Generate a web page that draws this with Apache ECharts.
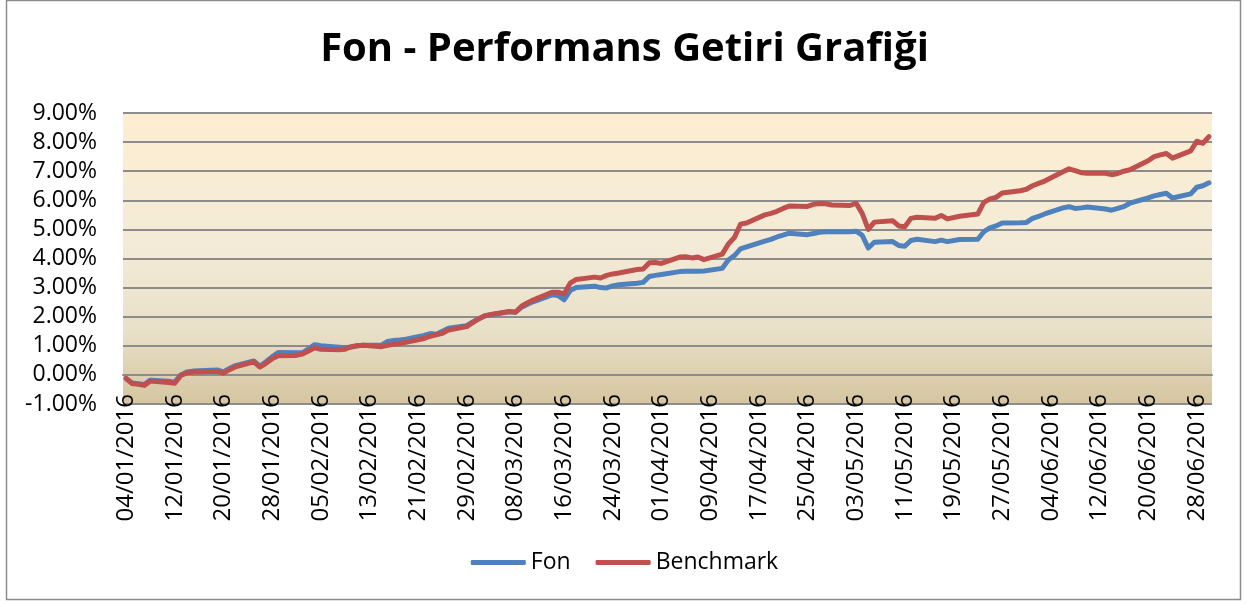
<!DOCTYPE html>
<html>
<head>
<meta charset="utf-8">
<script src="https://cdn.jsdelivr.net/npm/echarts@6/dist/echarts.min.js"></script>
<style>
html,body{margin:0;padding:0;background:#fff;}
#chart{width:1249px;height:604px;}
</style>
</head>
<body>
<div id="chart"></div>
<script>
const titleText = 'Fon - Performans Getiri Grafiği';
const seriesNames = ['Fon', 'Benchmark'];
const axisStart = '2016-01-04';
const axisEnd = '2016-06-30';

const pointDates = [
  '04/01','05/01','06/01','07/01','08/01','11/01','12/01','13/01','14/01','15/01','18/01','19/01','20/01','21/01','22/01','25/01','26/01','27/01','28/01','29/01',
  '01/02','02/02','03/02','04/02','05/02','08/02','09/02','10/02','11/02','12/02','15/02','16/02','17/02','18/02','19/02','22/02','23/02','24/02','25/02','26/02','29/02',
  '01/03','02/03','03/03','04/03','07/03','08/03','09/03','10/03','11/03','14/03','15/03','16/03','17/03','18/03','21/03','22/03','23/03','24/03','25/03','28/03','29/03','30/03','31/03',
  '01/04','04/04','05/04','06/04','07/04','08/04','11/04','12/04','13/04','14/04','15/04','18/04','19/04','20/04','21/04','22/04','25/04','26/04','27/04','28/04','29/04',
  '02/05','03/05','04/05','05/05','06/05','09/05','10/05','11/05','12/05','13/05','16/05','17/05','18/05','20/05','23/05','24/05','25/05','26/05','27/05','30/05','31/05',
  '01/06','02/06','03/06','06/06','07/06','08/06','09/06','10/06','13/06','14/06','15/06','16/06','17/06','20/06','21/06','22/06','23/06','24/06','27/06','28/06','29/06','30/06'
];

const fonValues = [
  -0.12,-0.28,-0.30,-0.33,-0.18,-0.22,-0.25,0.00,0.10,0.13,0.16,0.17,0.10,0.22,0.32,0.48,0.30,0.45,0.62,0.77,
  0.76,0.76,0.90,1.04,1.00,0.95,0.93,0.96,1.00,1.02,1.02,1.15,1.18,1.20,1.23,1.36,1.42,1.40,1.50,1.60,1.69,
  1.82,1.93,2.03,2.07,2.17,2.15,2.32,2.43,2.52,2.75,2.73,2.58,2.90,3.00,3.05,3.00,2.99,3.06,3.10,3.15,3.18,3.38,3.42,
  3.45,3.55,3.56,3.56,3.56,3.57,3.66,3.95,4.10,4.33,4.40,4.60,4.66,4.74,4.80,4.87,4.82,4.86,4.90,4.92,4.92,
  4.92,4.94,4.80,4.36,4.56,4.58,4.45,4.42,4.62,4.66,4.58,4.63,4.58,4.65,4.66,4.92,5.05,5.12,5.22,5.23,5.24,
  5.38,5.45,5.53,5.74,5.78,5.72,5.74,5.77,5.70,5.66,5.72,5.78,5.90,6.08,6.15,6.20,6.24,6.08,6.22,6.45,6.50,6.60
];

const benchmarkValues = [
  -0.12,-0.30,-0.32,-0.36,-0.21,-0.26,-0.29,-0.02,0.07,0.10,0.12,0.12,0.06,0.18,0.28,0.45,0.27,0.40,0.55,0.66,
  0.67,0.72,0.82,0.93,0.88,0.86,0.88,0.97,1.00,1.02,0.97,1.02,1.05,1.08,1.12,1.25,1.33,1.38,1.43,1.54,1.66,
  1.80,1.93,2.03,2.08,2.18,2.15,2.36,2.48,2.58,2.84,2.84,2.78,3.15,3.28,3.36,3.33,3.42,3.47,3.50,3.62,3.64,3.85,3.86,
  3.83,4.05,4.06,4.02,4.05,3.96,4.15,4.50,4.72,5.18,5.22,5.50,5.55,5.62,5.72,5.80,5.79,5.86,5.89,5.88,5.84,
  5.82,5.90,5.55,5.00,5.25,5.30,5.12,5.09,5.38,5.42,5.38,5.48,5.36,5.45,5.53,5.93,6.05,6.10,6.25,6.33,6.38,
  6.50,6.58,6.66,6.98,7.08,7.02,6.95,6.93,6.93,6.88,6.92,7.00,7.05,7.36,7.50,7.56,7.61,7.45,7.70,8.03,7.96,8.19
];

const yMin = -1, yMax = 9, yStep = 1;

// build calendar-day categories (Excel date axis)
function pad(n){return (n<10?'0':'')+n;}
const categories = [];
{
  const d = new Date(axisStart + 'T00:00:00Z');
  const e = new Date(axisEnd + 'T00:00:00Z');
  while (d <= e) {
    categories.push(pad(d.getUTCDate()) + '/' + pad(d.getUTCMonth()+1) + '/' + d.getUTCFullYear());
    d.setUTCDate(d.getUTCDate()+1);
  }
}
function toSeries(vals){
  const map = {};
  pointDates.forEach((p,i)=>{ map[p + '/2016'] = vals[i]; });
  return categories.map(c => (c in map) ? map[c] : null);
}

const FONT = 'Open Sans';
const chart = echarts.init(document.getElementById('chart'), null, {renderer:'canvas'});
chart.setOption({
  backgroundColor: '#ffffff',
  animation: false,
  title: {
    text: titleText,
    left: 'center',
    top: 25,
    textStyle: {fontFamily: FONT, fontWeight: 'bold', fontSize: 40, color: '#000'}
  },
  graphic: [{
    type: 'rect',
    shape: {x: 6.5, y: 0.5, width: 1234, height: 599},
    style: {fill: 'none', stroke: '#8c8c8c', lineWidth: 1.5},
    silent: true
  }],
  legend: {
    bottom: 25,
    left: 'center',
    icon: 'roundRect',
    itemWidth: 55,
    itemHeight: 5,
    itemGap: 25,
    textStyle: {fontFamily: FONT, fontSize: 23, color: '#000'},
    data: seriesNames
  },
  grid: {
    show: true,
    left: 123, right: 37, top: 113, bottom: 200,
    borderWidth: 0,
    backgroundColor: new echarts.graphic.LinearGradient(0,0,0,1,[
      {offset:0, color:'#fdeed2'},
      {offset:0.45, color:'#f3ebd7'},
      {offset:0.75, color:'#e9e0c8'},
      {offset:1, color:'#d5c5a0'}
    ])
  },
  xAxis: {
    type: 'category',
    data: categories,
    boundaryGap: true,
    axisLine: {show: true, lineStyle: {color: '#8c8c8c', width: 2}},
    axisTick: {show: false},
    axisLabel: {
      interval: 7,
      rotate: 90,
      margin: -10,
      fontFamily: FONT,
      fontSize: 24,
      color: '#000'
    },
    splitLine: {show: false}
  },
  yAxis: {
    type: 'value',
    min: yMin, max: yMax, interval: yStep,
    axisLine: {show: false},
    axisTick: {show: false},
    axisLabel: {
      margin: 26,
      fontFamily: FONT, fontSize: 23, color: '#000',
      formatter: v => v.toFixed(2) + '%'
    },
    splitLine: {show: true, lineStyle: {color: '#8c8c8c', width: 2}}
  },
  series: [
    {
      name: seriesNames[0], type: 'line', data: toSeries(fonValues),
      connectNulls: true, showSymbol: false, symbol: 'none',
      lineStyle: {color: '#4f81bd', width: 5, cap: 'round', join: 'round'},
      itemStyle: {color: '#4f81bd'}
    },
    {
      name: seriesNames[1], type: 'line', data: toSeries(benchmarkValues),
      connectNulls: true, showSymbol: false, symbol: 'none',
      lineStyle: {color: '#c0504d', width: 5, cap: 'round', join: 'round'},
      itemStyle: {color: '#c0504d'}
    }
  ]
});
</script>
</body>
</html>
